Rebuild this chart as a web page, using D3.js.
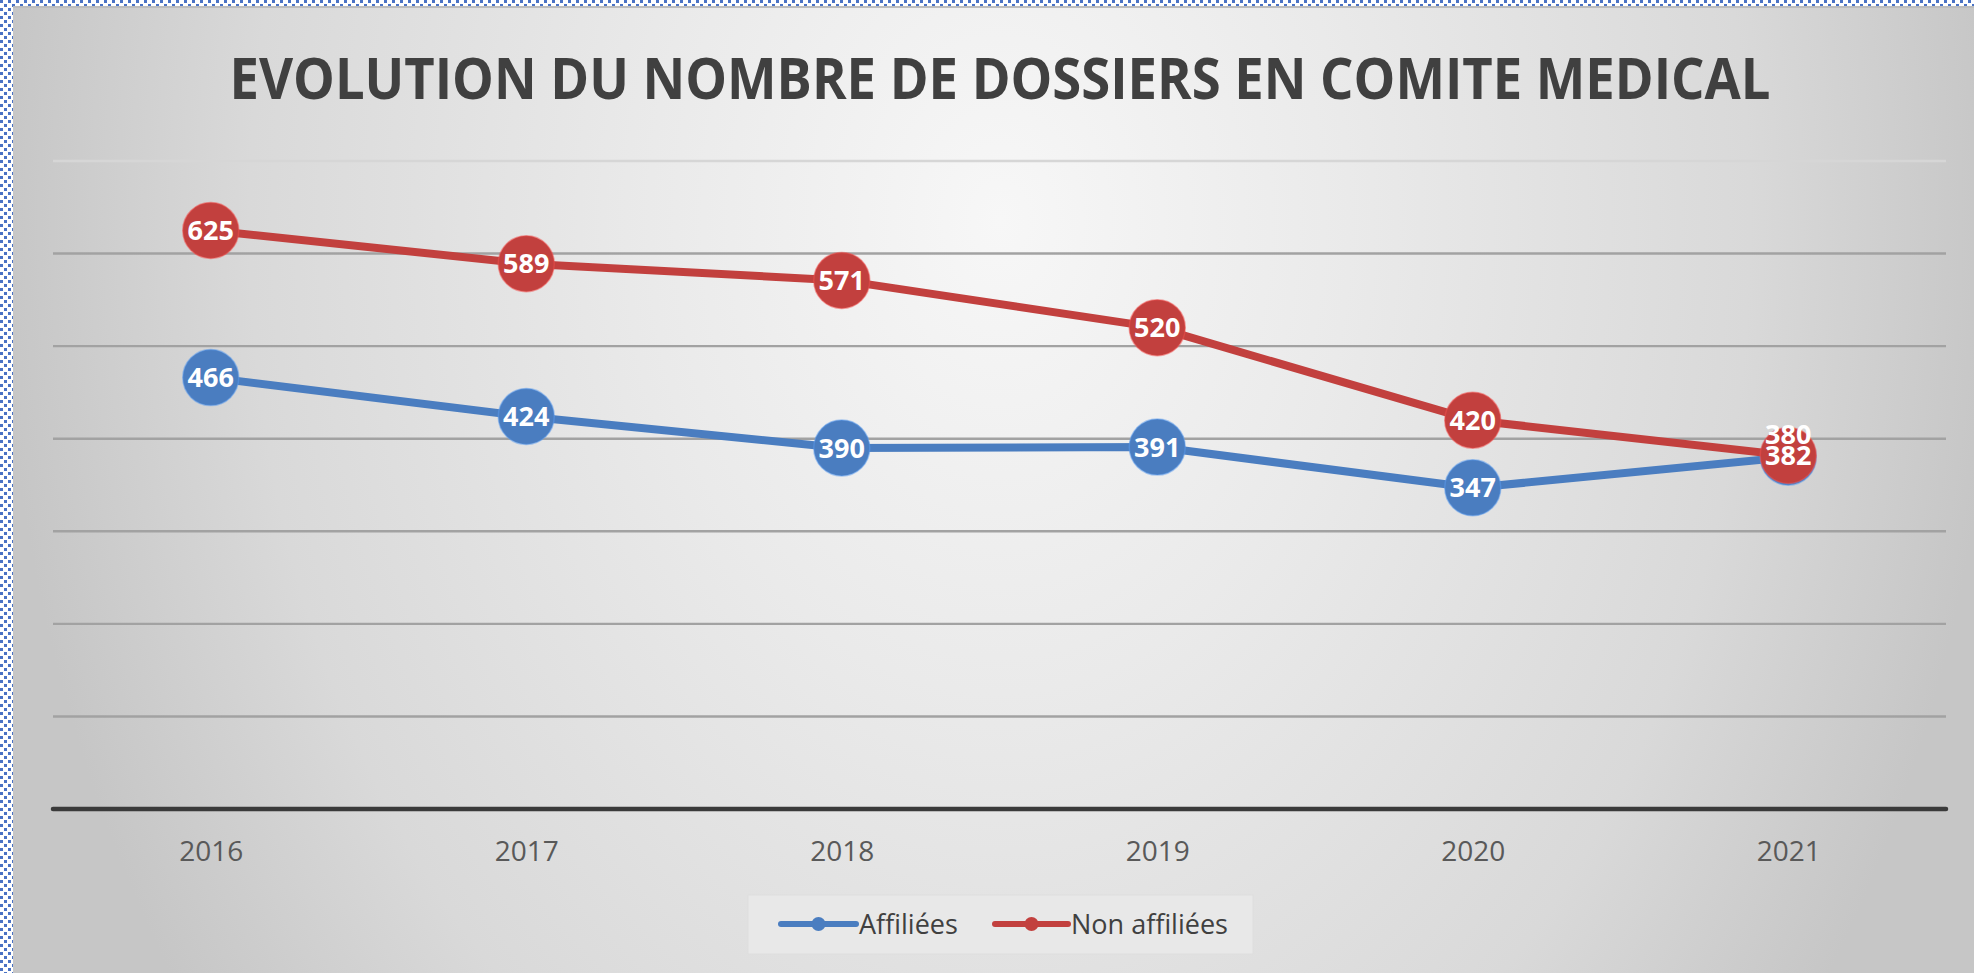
<!DOCTYPE html>
<html>
<head>
<meta charset="utf-8">
<script src="https://cdn.jsdelivr.net/npm/d3@7/dist/d3.min.js"></script>
<style>
  html, body { margin: 0; padding: 0; background: #ffffff; }
  svg { display: block; }
</style>
</head>
<body>
<svg id="chart" width="1974" height="973"></svg>
<script>
// Chart content
const title = "EVOLUTION DU NOMBRE DE DOSSIERS EN COMITE MEDICAL";
const years = ["2016", "2017", "2018", "2019", "2020", "2021"];
const affiliees = [466, 424, 390, 391, 347, 380];
const nonAffiliees = [625, 589, 571, 520, 420, 382];
const gridValues = [0, 100, 200, 300, 400, 500, 600, 700];
const seriesNames = ["Affiliées", "Non affiliées"];
const seriesColors = ["#4a7dc0", "#c2403e"];

const W = 1974, H = 973;
const svg = d3.select("#chart");
const defs = svg.append("defs");

// Dotted frame pattern around the chart image
const pat = defs.append("pattern")
  .attr("id", "dots").attr("patternUnits", "userSpaceOnUse")
  .attr("width", 8).attr("height", 8);
pat.append("rect").attr("x", 0).attr("y", 0).attr("width", 3).attr("height", 3).attr("fill", "#4a72c4");
pat.append("rect").attr("x", 4).attr("y", 4).attr("width", 3).attr("height", 3).attr("fill", "#4a72c4");

// Soft radial background of the chart area, brightest behind the title,
// darkening mostly towards the left and right edges
const rg = defs.append("radialGradient")
  .attr("id", "bg").attr("gradientUnits", "userSpaceOnUse")
  .attr("cx", 1000).attr("cy", 220).attr("r", 1000)
  .attr("gradientTransform", "translate(1000,220) scale(1,1.35) translate(-1000,-220)");
rg.append("stop").attr("offset", "0%").attr("stop-color", "#f7f7f7");
rg.append("stop").attr("offset", "35%").attr("stop-color", "#eaeaea");
rg.append("stop").attr("offset", "75%").attr("stop-color", "#d9d9d9");
rg.append("stop").attr("offset", "100%").attr("stop-color", "#c6c6c6");

svg.append("rect").attr("x", 0).attr("y", 0).attr("width", W).attr("height", H).attr("fill", "#ffffff");
svg.append("rect").attr("x", 0).attr("y", 0).attr("width", W).attr("height", 6).attr("fill", "url(#dots)");
svg.append("rect").attr("x", 0).attr("y", 0).attr("width", 13).attr("height", H).attr("fill", "url(#dots)");

const frameX = 13, frameY = 6;
svg.append("rect").attr("x", frameX).attr("y", frameY)
  .attr("width", W - frameX).attr("height", H - frameY)
  .attr("fill", "url(#bg)");
svg.append("line").attr("x1", frameX).attr("x2", W).attr("y1", frameY + 1).attr("y2", frameY + 1)
  .attr("stroke", "#bdbdbd").attr("stroke-width", 2);

// Title
svg.append("text")
  .attr("x", 1000).attr("y", 99)
  .attr("text-anchor", "middle")
  .attr("font-family", "'Open Sans', sans-serif")
  .attr("font-weight", 700)
  .attr("font-size", 58)
  .attr("fill", "#404040")
  .attr("textLength", 1541)
  .attr("lengthAdjust", "spacingAndGlyphs")
  .text(title);

// Scales
const x = d3.scalePoint().domain(years).range([53, 1946]).padding(0.5);
const y = d3.scaleLinear().domain([0, 700]).range([809, 161]);
const yMax = d3.max(gridValues);

// Gridlines (the top one fades into the light background)
svg.append("g").selectAll("line")
  .data(gridValues.filter(v => v > 0))
  .join("line")
  .attr("x1", 53).attr("x2", 1946)
  .attr("y1", d => y(d)).attr("y2", d => y(d))
  .attr("stroke", d => d === yMax ? "#d6d6d6" : "#a2a2a2")
  .attr("stroke-width", 2.4);

// Category axis
const xAxis = svg.append("g")
  .attr("transform", `translate(0,${y(0)})`)
  .call(d3.axisBottom(x).tickSize(0).tickPadding(0));
xAxis.select(".domain").remove();
xAxis.selectAll("text")
  .attr("y", 52)
  .attr("dy", 0)
  .attr("font-family", "'Open Sans', sans-serif")
  .attr("font-size", 28)
  .attr("fill", "#595959");
svg.append("line")
  .attr("x1", 53).attr("x2", 1946)
  .attr("y1", y(0)).attr("y2", y(0))
  .attr("stroke", "#3a3a3a").attr("stroke-width", 4.5)
  .attr("stroke-linecap", "round");

// Series
const series = [
  { name: seriesNames[0], values: affiliees, color: seriesColors[0] },
  { name: seriesNames[1], values: nonAffiliees, color: seriesColors[1] }
];

const line = d3.line().x((d, i) => x(years[i])).y(d => y(d));

series.forEach(s => {
  const g = svg.append("g");
  g.append("path")
    .attr("d", line(s.values))
    .attr("fill", "none")
    .attr("stroke", s.color)
    .attr("stroke-width", 8)
    .attr("stroke-linejoin", "round")
    .attr("stroke-linecap", "round");
  g.selectAll("circle")
    .data(s.values)
    .join("circle")
    .attr("cx", (d, i) => x(years[i]))
    .attr("cy", d => y(d))
    .attr("r", 28)
    .attr("fill", s.color)
    .attr("stroke", d3.color(s.color).brighter(0.6))
    .attr("stroke-opacity", 0.5)
    .attr("stroke-width", 1.5);
});

// Value labels, centred on the markers; when two labels of a year collide,
// the first series' label is lifted above the second one
const labelGap = 21;
const labelY = series.map(s => s.values.map(v => y(v)));
years.forEach((yr, i) => {
  const a = labelY[0][i], b = labelY[1][i];
  if (Math.abs(a - b) < labelGap) labelY[0][i] = b - labelGap;
});
series.forEach((s, si) => {
  svg.append("g").selectAll("text")
    .data(s.values)
    .join("text")
    .attr("x", (d, i) => x(years[i]))
    .attr("y", (d, i) => labelY[si][i])
    .attr("dy", "0.36em")
    .attr("text-anchor", "middle")
    .attr("font-family", "'Open Sans', sans-serif")
    .attr("font-weight", 700)
    .attr("font-size", 27)
    .attr("fill", "#ffffff")
    .text(d => d);
});

// Legend
const legend = svg.append("g");
legend.append("rect")
  .attr("x", 748).attr("y", 895).attr("width", 505).attr("height", 59)
  .attr("fill", "#e8e8e8").attr("stroke", "#dedede").attr("stroke-width", 1);
const legendItems = [
  { x0: 781, x1: 856, tx: 859 },
  { x0: 995, x1: 1068, tx: 1071 }
];
series.forEach((s, i) => {
  const it = legendItems[i];
  const cy = 924;
  legend.append("line")
    .attr("x1", it.x0).attr("x2", it.x1).attr("y1", cy).attr("y2", cy)
    .attr("stroke", s.color).attr("stroke-width", 6).attr("stroke-linecap", "round");
  legend.append("circle")
    .attr("cx", (it.x0 + it.x1) / 2).attr("cy", cy).attr("r", 7)
    .attr("fill", s.color);
  legend.append("text")
    .attr("x", it.tx).attr("y", cy).attr("dy", "0.36em")
    .attr("font-family", "'Open Sans', sans-serif")
    .attr("font-size", 27)
    .attr("fill", "#404040")
    .text(s.name);
});
</script>
</body>
</html>
